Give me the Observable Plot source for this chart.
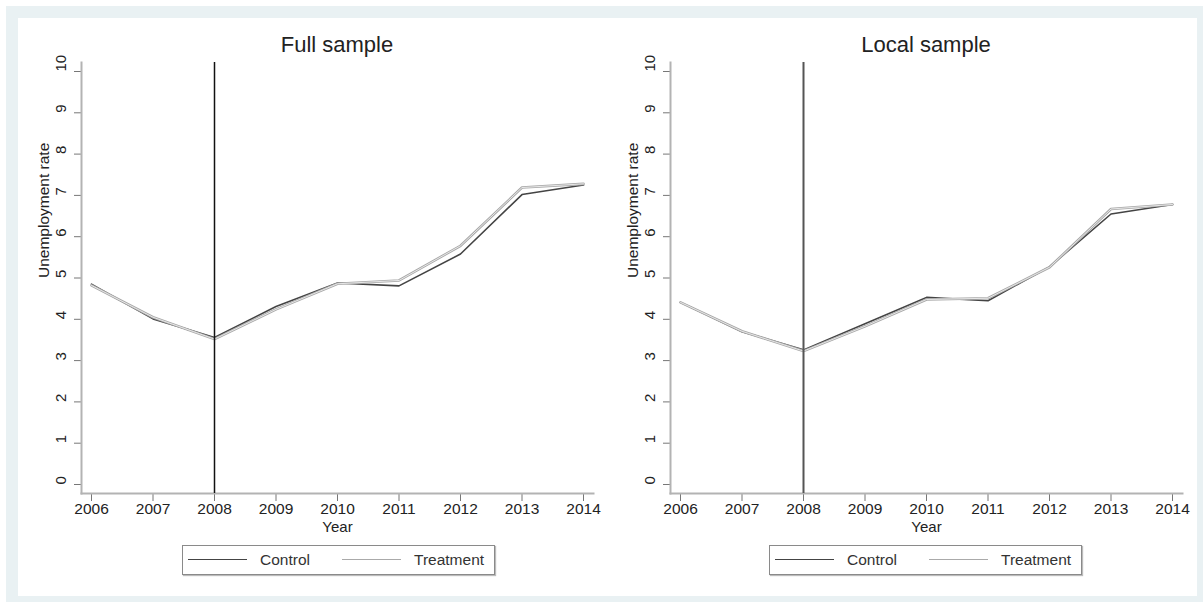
<!DOCTYPE html>
<html>
<head>
<meta charset="utf-8">
<script src="https://cdn.jsdelivr.net/npm/d3@7"></script>
<script src="https://cdn.jsdelivr.net/npm/@observablehq/plot@0.6"></script>
<style>
  body { margin: 0; background: #fff; font-family: "Liberation Sans", Arial, sans-serif; color: #222; }
  #band { position: absolute; left: 6px; top: 6px; width: 1197px; height: 596px; background: #e9f1f3; }
  #panel { position: absolute; left: 18px; top: 18px; width: 1179px; height: 578px; background: #fff; }
  .chart { position: absolute; top: 18px; }
  .title { position: absolute; top: 34px; font-size: 22px; line-height: 22px; text-align: center; color: #222; white-space: nowrap; }
  .legend { position: absolute; top: 545px; width: 311px; height: 28px; border: 1px solid #8a8a8a; box-shadow: 1px 1px 1px #bbb; background: #fff; }
  .legend .sw { position: absolute; top: 13px; width: 59px; height: 0; }
  .legend .lab { position: absolute; top: 5px; font-size: 15.5px; line-height: 18px; color: #333; }
</style>
</head>
<body>
<div id="band"></div>
<div id="panel"></div>
<div id="root"></div>
<script>
// ---- data ----
const years = [2006, 2007, 2008, 2009, 2010, 2011, 2012, 2013, 2014];
const fullControl   = [4.85, 4.01, 3.56, 4.31, 4.88, 4.81, 5.58, 7.02, 7.25];
const fullTreatment = [4.82, 4.05, 3.52, 4.24, 4.86, 4.94, 5.78, 7.19, 7.28];
const localControl   = [4.41, 3.70, 3.26, 3.89, 4.53, 4.45, 5.27, 6.55, 6.78];
const localTreatment = [4.41, 3.71, 3.23, 3.83, 4.48, 4.51, 5.26, 6.67, 6.78];
const yTicks = [0, 1, 2, 3, 4, 5, 6, 7, 8, 9, 10];
const seriesNames = ["Control", "Treatment"];
const panelTitles = ["Full sample", "Local sample"];
const treatYear = 2008;
const yLabel = "Unemployment rate";
const xLabel = "Year";

const font = '"Liberation Sans", Arial, sans-serif';
const root = document.getElementById("root");

function makePanel(opts) {
  const {left, width, marginLeft, marginRight, control, treatment, title, vColor, vWidth, legendLeft} = opts;
  const rows = (vals) => years.map((y, i) => ({year: y, value: vals[i]}));
  const chart = Plot.plot({
    width, height: 522,
    marginLeft, marginRight, marginTop: 44, marginBottom: 47,
    insetLeft: 10, insetRight: 10, insetTop: 9, insetBottom: 9,
    x: {domain: [years[0], years[years.length - 1]]},
    y: {domain: [0, 10]},
    style: {fontFamily: font, fontSize: "15px", color: "#222", background: "transparent", overflow: "visible"},
    marks: [
      Plot.axisX({ticks: years, tickFormat: d => String(d), tickSize: 8, tickPadding: 1, stroke: "#777", fill: "#222", fontSize: 15.5, label: null}),
      Plot.axisY({ticks: yTicks, tickSize: 7, tickFormat: () => "", stroke: "#777", label: null}),
      Plot.text(yTicks, {y: d => d, text: d => String(d), frameAnchor: "left", rotate: -90, dx: -20, fontSize: 15, fill: "#222"}),
      Plot.text([yLabel], {frameAnchor: "left", rotate: -90, dx: -37, fontSize: 15.5, fill: "#222"}),
      Plot.text([xLabel], {frameAnchor: "bottom", dy: 38, fontSize: 15, fill: "#222"}),
      Plot.frame({anchor: "left", stroke: "#b3b3b3", strokeWidth: 2}),
      Plot.frame({anchor: "bottom", stroke: "#b3b3b3", strokeWidth: 2}),
      Plot.line(rows(control), {x: "year", y: "value", stroke: "#444", strokeWidth: 1.6}),
      Plot.line(rows(treatment), {x: "year", y: "value", stroke: "#a8a8a8", strokeWidth: 2.6}),
      Plot.line(rows(treatment), {x: "year", y: "value", stroke: "#eeeeee", strokeWidth: 0.9}),
      Plot.ruleX([treatYear], {stroke: vColor, strokeWidth: vWidth})
    ]
  });
  chart.classList.add("chart");
  chart.style.left = left + "px";
  root.appendChild(chart);

  const frameL = left + marginLeft, frameR = left + width - marginRight;
  const t = document.createElement("div");
  t.className = "title";
  t.textContent = title;
  t.style.left = frameL + "px";
  t.style.width = (frameR - frameL) + "px";
  root.appendChild(t);

  const lg = document.createElement("div");
  lg.className = "legend";
  lg.style.left = legendLeft + "px";
  const parts = [
    {cls: "sw", style: "left:5px;border-top:1.5px solid #444;"},
    {cls: "lab", style: "left:77px;", text: seriesNames[0]},
    {cls: "sw", style: "left:159px;border-top:1.3px solid #aaa;"},
    {cls: "lab", style: "left:231px;", text: seriesNames[1]}
  ];
  for (const p of parts) {
    const e = document.createElement("div");
    e.className = p.cls;
    e.style.cssText = p.style;
    if (p.text) e.textContent = p.text;
    lg.appendChild(e);
  }
  root.appendChild(lg);
}

makePanel({left: 17, width: 586, marginLeft: 64, marginRight: 10, control: fullControl, treatment: fullTreatment,
  title: panelTitles[0], vColor: "#111", vWidth: 1.5, legendLeft: 182});
makePanel({left: 603, width: 594, marginLeft: 67, marginRight: 15, control: localControl, treatment: localTreatment,
  title: panelTitles[1], vColor: "#555", vWidth: 2, legendLeft: 769});
</script>
</body>
</html>
